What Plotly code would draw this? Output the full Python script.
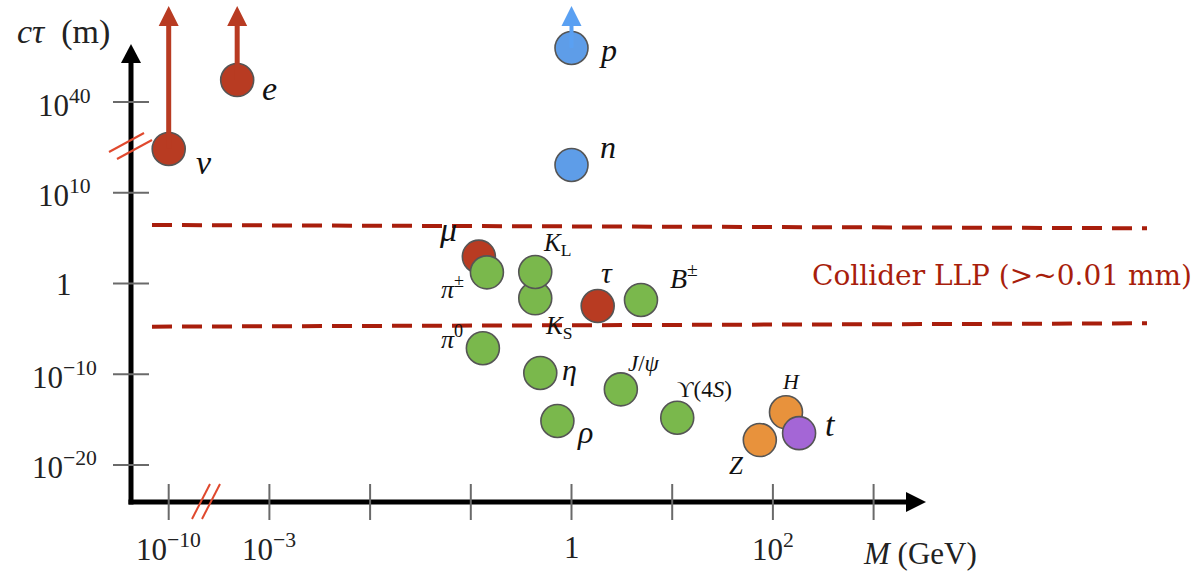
import plotly.graph_objects as go

# ---------------- data (log10 values read from the schematic) ----------------
particles = ["nu", "e", "p", "n", "mu", "pi+-", "K_S", "K_L", "tau", "B+-",
             "pi0", "eta", "rho", "J/psi", "Upsilon(4S)", "H", "Z", "t"]
labels = ["<i>ν</i>", "<i>e</i>", "<i>p</i>", "<i>n</i>", "<i>μ</i>",
          "<i>π</i><sup>±</sup>", "<i>K</i><sub>S</sub>", "<i>K</i><sub>L</sub>",
          "<i>τ</i>", "<i>B</i><sup>±</sup>", "<i>π</i><sup>0</sup>", "<i>η</i>",
          "<i>ρ</i>", "<i>J</i>/<i>ψ</i>", "ϒ(4<i>S</i>)", "<i>H</i>", "<i>Z</i>", "<i>t</i>"]
log_mass_gev = [-10.0, -3.32, 0.0, 0.0, -0.92, -0.84, -0.36, -0.36, 0.26, 0.69,
                -0.88, -0.31, -0.14, 0.49, 1.05, 2.13, 1.87, 2.26]
log_ctau_m = [24.5, 47.3, 57.9, 19.2, 2.96, 1.23, -1.63, 1.27, -2.48, -1.82,
              -7.14, -9.87, -15.16, -11.67, -14.8, -14.2, -17.26, -16.5]
group = ["lepton", "lepton", "baryon", "baryon", "lepton", "meson", "meson", "meson",
         "lepton", "meson", "meson", "meson", "meson", "meson", "meson",
         "boson", "boson", "quark"]
unbounded = ["nu", "e", "p"]

x_tick_log = [-10, -3, -2, -1, 0, 1, 2, 3]
x_tick_text = ["10<sup>−10</sup>", "10<sup>−3</sup>", "", "", "1", "", "10<sup>2</sup>", ""]
y_tick_log = [40, 10, 0, -10, -20]
y_tick_text = ["10<sup>40</sup>", "10<sup>10</sup>", "1", "10<sup>−10</sup>", "10<sup>−20</sup>"]

llp_band_label = "Collider LLP (>~0.01 mm)"
llp_upper_log = [6.45, 6.09]
llp_lower_log = [-4.76, -4.39]

# ---------------- styles ----------------
group_color = {"lepton": "#b83b22", "baryon": "#5e9de8", "meson": "#7ab84c",
               "boson": "#e8923c", "quark": "#a466d6"}
label_style = {  # (right px, down px, font size)
    "nu": (35, 14, 34), "e": (32, 8, 34), "p": (36, 2, 32), "n": (36, -18, 32),
    "mu": (-31, -27, 34), "pi+-": (-34, 15, 26), "K_S": (23, 29, 25),
    "K_L": (22, -27, 25), "tau": (9, -33, 30), "B+-": (43, -24, 28),
    "pi0": (-31, -11, 26), "eta": (29, -4, 30), "rho": (28, 11, 32),
    "J/psi": (23, -26, 23), "Upsilon(4S)": (27, -28, 23), "H": (5, -31, 22),
    "Z": (-23, 25, 25), "t": (31, -9, 34),
}
RED_LINE = "#a81e0c"
BREAK_RED = "#e0492e"
SERIF = "Liberation Serif"

W, H = 1198, 574
PX, PY = 100.7, 9.07          # pixels per display unit
XR = [-571.5 / PX, (W - 571.5) / PX]
YR = [(283.5 - H) / PY, 283.5 / PY]


def fx(lm):   # broken log-mass axis
    return lm + 6 if lm < -5 else lm


def fy(lc):   # broken log-lifetime axis
    return 10 + (lc - 10) / 3 if lc > 10 else lc


xd = [fx(v) for v in log_mass_gev]
yd = [fy(v) for v in log_ctau_m]

fig = go.Figure()
shapes = []
ann = []

# axes
X0 = XR[0] + 131 / PX
Y0 = YR[0] + (H - 502) / PY
y_tip = YR[1] - 44 / PY
x_tip = XR[0] + 926 / PX
hw = 10
shapes.append(dict(type="line", x0=X0, x1=X0, y0=Y0 - 2.5 / PY, y1=y_tip - 18 / PY,
                   line=dict(color="black", width=5)))
shapes.append(dict(type="line", x0=X0 - 2.5 / PX, x1=x_tip - 18 / PX, y0=Y0, y1=Y0,
                   line=dict(color="black", width=5)))
shapes.append(dict(type="path",
                   path=f"M {X0 - hw / PX} {y_tip - 19 / PY} L {X0 + hw / PX} {y_tip - 19 / PY} L {X0} {y_tip} Z",
                   fillcolor="black", line=dict(width=0)))
shapes.append(dict(type="path",
                   path=f"M {x_tip - 20 / PX} {Y0 + hw / PY} L {x_tip - 20 / PX} {Y0 - hw / PY} L {x_tip} {Y0} Z",
                   fillcolor="black", line=dict(width=0)))

# ticks and tick labels
for v, t in zip(x_tick_log, x_tick_text):
    x = fx(v)
    shapes.append(dict(type="line", x0=x, x1=x, y0=Y0 - 18 / PY, y1=Y0 + 18 / PY,
                       line=dict(color="#6a6a6a", width=2)))
    if t:
        ann.append(dict(x=x, y=Y0 - 45 / PY, text=t, showarrow=False,
                        font=dict(family=SERIF, size=31, color="#222")))
for v, t in zip(y_tick_log, y_tick_text):
    y = fy(v)
    shapes.append(dict(type="line", x0=X0 - 18 / PX, x1=X0 + 18 / PX, y0=y, y1=y,
                       line=dict(color="#6a6a6a", width=2)))
    ann.append(dict(x=XR[0] + 64 / PX, y=y, yshift=-1, text=t, showarrow=False,
                    font=dict(family=SERIF, size=31, color="#222")))

# axis breaks
for dx in (0, 10):
    shapes.append(dict(type="line", x0=XR[0] + (192 + dx) / PX, y0=YR[1] - 519 / PY,
                       x1=XR[0] + (210 + dx) / PX, y1=YR[1] - 484 / PY,
                       line=dict(color=BREAK_RED, width=2)))
for dx, dy in ((0, 0), (8, 7)):
    shapes.append(dict(type="line", x0=XR[0] + (109 + dx) / PX, y0=YR[1] - (152 + dy) / PY,
                       x1=XR[0] + (144 + dx) / PX, y1=YR[1] - (133 + dy) / PY,
                       line=dict(color=BREAK_RED, width=2)))

# axis titles
ann.append(dict(x=XR[0] + 63 / PX, y=YR[1] - 32 / PY, text="<i>cτ</i>  (m)", showarrow=False,
                font=dict(family=SERIF, size=34, color="#222")))
ann.append(dict(x=XR[0] + 920 / PX, y=YR[1] - 553 / PY, text="<i>M</i> (GeV)", showarrow=False,
                font=dict(family=SERIF, size=31, color="#222")))

# LLP band
llp_x = [XR[0] + 152 / PX, XR[0] + 1147 / PX]
for ys in (llp_upper_log, llp_lower_log):
    fig.add_trace(go.Scatter(x=llp_x, y=[fy(v) for v in ys], mode="lines",
                             line=dict(color=RED_LINE, width=4, dash="20px,10px"),
                             hoverinfo="skip", showlegend=False))
ann.append(dict(x=XR[0] + 1002 / PX, y=YR[1] - 275 / PY, text=llp_band_label, showarrow=False,
                font=dict(family="DejaVu Serif", size=28, color=RED_LINE)))

# arrows for unbounded lifetimes
for name, x, y, g in zip(particles, xd, yd, group):
    if name in unbounded:
        col = group_color[g]
        if g == "baryon":
            col = "#5aa0f2"
        tip = YR[1] - 6 / PY
        base = tip - 20 / PY
        shapes.append(dict(type="line", x0=x, x1=x, y0=y, y1=base + 1 / PY,
                           line=dict(color=col, width=5 if g != "baryon" else 4)))
        shapes.append(dict(type="path",
                           path=f"M {x - 10 / PX} {base} L {x + 10 / PX} {base} L {x} {tip} Z",
                           fillcolor=col, line=dict(width=0)))

# particles
fig.add_trace(go.Scatter(
    x=xd, y=yd, mode="markers",
    marker=dict(size=33, color=[group_color[g] for g in group],
                line=dict(color="#555555", width=1.6), opacity=1),
    text=particles, hoverinfo="text", showlegend=False, cliponaxis=False))

for name, lab, x, y in zip(particles, labels, xd, yd):
    dxs, dys, fs = label_style[name]
    ann.append(dict(x=x, y=y, xshift=dxs, yshift=-dys, text=lab, showarrow=False,
                    font=dict(family=SERIF, size=fs, color="#111")))

fig.update_layout(
    width=W, height=H, margin=dict(l=0, r=0, t=0, b=0),
    paper_bgcolor="white", plot_bgcolor="white",
    xaxis=dict(range=XR, visible=False, fixedrange=True),
    yaxis=dict(range=YR, visible=False, fixedrange=True),
    shapes=shapes, annotations=ann,
)
fig.write_html("out.html")
